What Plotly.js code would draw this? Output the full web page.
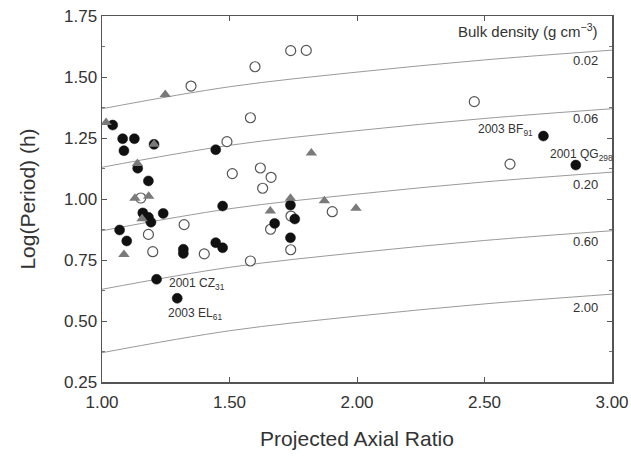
<!DOCTYPE html>
<html><head><meta charset="utf-8">
<script src="https://cdn.plot.ly/plotly-3.0.1.min.js"></script>
<style>html,body{margin:0;padding:0;background:#fff}#chart{width:631px;height:457px}</style>
</head><body><div id="chart"></div>
<script>
// Filled circles
const filledX = [1.042,1.081,1.127,1.086,1.204,1.446,1.140,1.182,1.473,1.160,1.182,1.192,1.240,1.069,1.097,1.319,1.319,1.446,1.473,1.214,1.295,1.739,1.756,1.677,1.739,2.731,2.858];
const filledY = [1.303,1.247,1.247,1.198,1.224,1.202,1.126,1.074,0.971,0.943,0.925,0.905,0.941,0.873,0.828,0.794,0.777,0.821,0.800,0.671,0.593,0.975,0.918,0.900,0.841,1.258,1.139];
// Open circles
const openX = [1.349,1.582,1.490,1.511,1.621,1.630,1.152,1.182,1.322,1.199,1.401,1.582,1.663,1.741,1.903,1.661,1.740,1.740,1.801,1.600,2.460,2.600];
const openY = [1.463,1.333,1.235,1.104,1.127,1.044,1.004,0.855,0.895,0.784,0.775,0.746,1.089,0.930,0.948,0.876,0.792,1.608,1.609,1.542,1.399,1.143];
// Grey triangles
const triX = [1.248,1.016,1.204,1.139,1.129,1.183,1.157,1.086,1.739,1.872,1.996,1.660,1.821];
const triY = [1.428,1.314,1.224,1.146,1.003,1.011,0.919,0.773,1.003,0.993,0.962,0.951,1.189];
// Bulk density reference curves
const curveX = [1.0, 1.5, 2.0, 2.5, 3.0];
const densityLabels = ["0.02","0.06","0.20","0.60","2.00"];
const curveY = [
  [1.37, 1.46, 1.52, 1.57, 1.61],
  [1.13, 1.22, 1.28, 1.33, 1.37],
  [0.87, 0.96, 1.02, 1.07, 1.11],
  [0.63, 0.72, 0.78, 0.83, 0.87],
  [0.37, 0.46, 0.52, 0.57, 0.61]
];
const densityLabelY = [1.566, 1.328, 1.061, 0.824, 0.557];
// Named objects
const nameText = ["2001 CZ<sub>31</sub>","2003 EL<sub>61</sub>","2003 BF<sub>91</sub>","2001 QG<sub>298</sub>"];
const nameX = [1.253, 1.251, 2.698, 2.749];
const nameY = [0.652, 0.529, 1.283, 1.180];
const nameAnchor = ["left","left","right","left"];
const xTicks = [1.0, 1.5, 2.0, 2.5, 3.0];

const traces = [];
curveY.forEach((ys) => {
  traces.push({x: curveX, y: ys, mode: 'lines', line: {color: '#9a9a9a', width: 1, shape: 'spline'}, hoverinfo: 'skip', showlegend: false});
});
traces.push({x: openX, y: openY, mode: 'markers', showlegend: false,
  marker: {symbol: 'circle', size: 10, color: '#ffffff', line: {color: '#555555', width: 1.2}}});
traces.push({x: filledX, y: filledY, mode: 'markers', showlegend: false,
  marker: {symbol: 'circle', size: 10, color: '#111111', line: {color: '#111111', width: 0.5}}});
traces.push({x: triX, y: triY, mode: 'markers', showlegend: false,
  marker: {symbol: 'triangle-up', size: 10, color: '#7a7a7a', line: {width: 0}}});

const annotations = [];
densityLabels.forEach((t, i) => {
  annotations.push({x: 2.953, y: densityLabelY[i], xref: 'x', yref: 'y', text: t, showarrow: false,
    xanchor: 'right', yanchor: 'middle', font: {size: 13, color: '#333'}});
});
nameText.forEach((t, i) => {
  annotations.push({x: nameX[i], y: nameY[i], xref: 'x', yref: 'y', text: t, showarrow: false,
    xanchor: nameAnchor[i], yanchor: 'middle', font: {size: 12, color: '#333'}});
});
annotations.push({x: 2.953, y: 1.690, xref: 'x', yref: 'y', text: 'Bulk density (g cm<sup>−3</sup>)', showarrow: false,
  xanchor: 'right', yanchor: 'middle', font: {size: 15, color: '#333'}});

const layout = {
  width: 631, height: 457,
  margin: {l: 102, r: 19, t: 16, b: 75},
  paper_bgcolor: '#fff', plot_bgcolor: '#fff',
  font: {family: 'Arial, "Liberation Sans", sans-serif', color: '#333'},
  showlegend: false,
  xaxis: {range: [1.0, 3.0], tickvals: xTicks, tickformat: '.2f', showgrid: false, zeroline: false,
    showline: true, linecolor: '#555', linewidth: 1.5, mirror: 'ticks', ticks: 'inside', ticklen: 5, tickcolor: '#555',
    ticklabelstandoff: 4,
    tickfont: {size: 17, color: '#333'},
    title: {text: 'Projected Axial Ratio', font: {size: 21, color: '#333'}, standoff: 20}},
  yaxis: {range: [0.25, 1.75], dtick: 0.25, tick0: 0.25, tickformat: '.2f', showgrid: false, zeroline: false,
    showline: true, linecolor: '#555', linewidth: 1.5, mirror: 'ticks', ticks: 'inside', ticklen: 5, tickcolor: '#555',
    minor: {dtick: 0.125, ticks: 'inside', ticklen: 3, tickcolor: '#777'},
    tickfont: {size: 17, color: '#333'},
    title: {text: 'Log(Period) (h)', font: {size: 21, color: '#333'}, standoff: 22}},
  annotations: annotations
};
Plotly.newPlot('chart', traces, layout, {displayModeBar: false, staticPlot: true});
</script>
</body></html>
